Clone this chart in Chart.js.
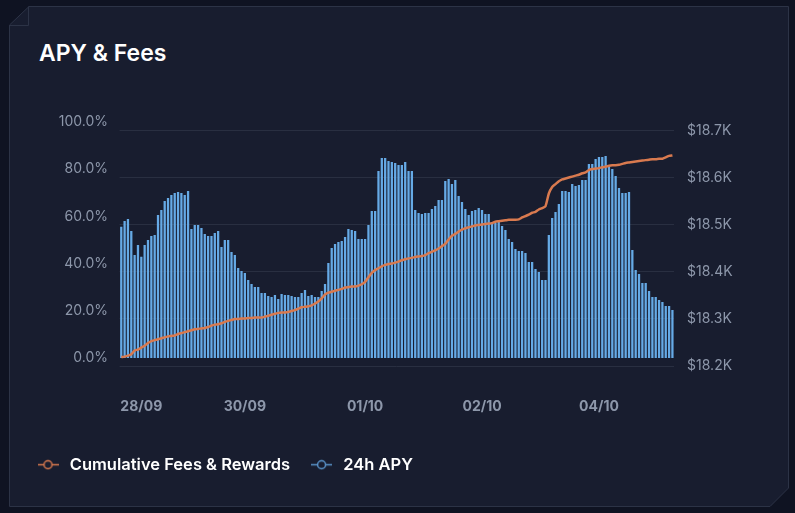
<!DOCTYPE html>
<html>
<head>
<meta charset="utf-8">
<script src="https://cdn.jsdelivr.net/npm/chart.js@4/dist/chart.umd.min.js"></script>
<style>
  html, body { margin: 0; padding: 0; background: #0f1322; }
  #wrap { position: relative; width: 795px; height: 513px; overflow: hidden; }
  #card { position: absolute; left: 0; top: 0; }
  #title {
    position: absolute; left: 39px; top: 40.5px; margin: 0;
    font-family: Inter, sans-serif; font-size: 23px; line-height: 24px; font-weight: 600;
    color: #ffffff;
  }
  #chart { position: absolute; left: 0; top: 0; }
</style>
</head>
<body>
<div id="wrap">
  <svg id="card" width="795" height="513">
    <path d="M9.5 25 L29 6.5 L788.5 6.5 L788.5 488 L770 506.5 L9.5 506.5 Z" fill="#181d2f" stroke="#2c3346" stroke-width="1"/>
    <path d="M28.5 6.5 L28.5 25.5 L9.5 25.5" fill="none" stroke="#2c3346" stroke-width="1"/>
  </svg>
  <h1 id="title">APY &amp; Fees</h1>
  <canvas id="chart" width="795" height="513"></canvas>
</div>
<script>
// x ticks: only a few dates are labelled
const tickDays = ['28/09', '30/09', '01/10', '02/10', '04/10'];
const tickAt = [6, 37, 73, 108, 143];

// 24h APY (%)
const apy = [
  55.6, 58.1, 58.9, 53.8, 43.6, 47.9, 42.9, 47.9, 50, 51.7, 52.1, 60.6, 62.7, 66.5, 67.8, 69.1, 69.9, 70.3, 69.9, 69.1, 70.8,
  54.7, 56.4, 56.4, 55.1, 52.5, 51.7, 51.7, 53, 53.8, 47, 50, 50, 44.9, 43.6, 38.1, 36.9, 36, 33, 31.4, 30.1, 30.1,
  27.5, 27.5, 26.3, 25.8, 26.7, 25, 27.1, 26.7, 26.7, 26.3, 25.8, 25.8, 27.5, 28.8, 26.3, 26.7, 25.8, 25.8, 28.4, 31.4,
  40.3, 46.6, 48.3, 49.2, 49.6, 51.3, 54.7, 54.2, 53.8, 50.4, 50.4, 50.4, 56.4, 62.3, 62.3, 79.2, 84.7, 84.7, 83.5, 83.1, 82.6,
  81.8, 81.8, 83.1, 79.2, 79.2, 62.7, 61.4, 61, 61.4, 61.4, 63.1, 64.4, 67, 67, 75, 75.8, 73.7, 75.4, 68.6, 66.1,
  63.1, 60.6, 62.3, 62.7, 63.6, 62.7, 61, 61, 57.6, 57.2, 57.6, 55.9, 54.2, 50.4, 49.2, 46.2, 45.3, 45.3, 44.5, 40.7,
  40.7, 37.7, 36.4, 33.1, 33.1, 52.1, 59.3, 61.9, 65.3, 70.8, 70.8, 70.3, 73.7, 72.9, 73.3, 75.4, 75.4, 82.2, 82.2, 84.3,
  85.2, 85.2, 85.6, 81.4, 80.1, 77.1, 72, 69.9, 69.9, 70.3, 45.8, 37.3, 35.6, 31.8, 31.8, 28.4, 25.8, 25.8, 24.6, 23.7,
  22, 22, 20.3
];

// cumulative fees & rewards ($)
const fees = [
  18219, 18220, 18222, 18225, 18233, 18235, 18239, 18243, 18249, 18253, 18255, 18257, 18259, 18261, 18263, 18264,
  18265, 18268, 18270, 18272, 18274, 18276, 18278, 18279, 18280, 18281, 18283, 18286, 18288, 18289, 18291, 18294,
  18296, 18298, 18300, 18300, 18301, 18301, 18302, 18302, 18303, 18303, 18303, 18305, 18307, 18309, 18311, 18313,
  18314, 18314, 18315, 18317, 18319, 18322, 18325, 18326, 18327, 18329, 18333, 18337, 18344, 18352, 18356, 18358,
  18360, 18362, 18364, 18367, 18368, 18369, 18369, 18371, 18374, 18379, 18389, 18398, 18404, 18408, 18412, 18415,
  18417, 18418, 18420, 18422, 18425, 18427, 18429, 18430, 18432, 18433, 18434, 18436, 18440, 18443, 18446, 18450,
  18455, 18460, 18469, 18477, 18481, 18486, 18490, 18493, 18495, 18497, 18499, 18500, 18501, 18502, 18503, 18504,
  18507, 18508, 18509, 18510, 18511, 18511, 18511, 18512, 18516, 18519, 18522, 18526, 18528, 18533, 18536, 18540,
  18567, 18581, 18587, 18593, 18597, 18599, 18601, 18603, 18605, 18607, 18610, 18612, 18617, 18619, 18620, 18621,
  18623, 18624, 18626, 18627, 18627, 18628, 18630, 18632, 18633, 18634, 18635, 18636, 18637, 18638, 18639, 18640,
  18640, 18641, 18641, 18644, 18647, 18648
];

const labels = apy.map((_, i) => {
  const k = tickAt.indexOf(i);
  return k >= 0 ? tickDays[k] : '';
});

const ORANGE = '#d97a4f';
const BLUE = '#66aae6';
const GRAY = '#8d97aa';

function legendMarker(color) {
  const c = document.createElement('canvas');
  c.width = 21; c.height = 11;
  const g = c.getContext('2d');
  g.strokeStyle = color;
  g.lineWidth = 1.5;
  g.beginPath(); g.moveTo(0, 5.5); g.lineTo(21, 5.5); g.stroke();
  g.fillStyle = '#181d2f';
  g.beginPath(); g.arc(10.5, 5.5, 4, 0, Math.PI * 2); g.fill(); g.stroke();
  return c;
}
const markers = [legendMarker(ORANGE), legendMarker('#5b95cc')];

Chart.defaults.font.family = 'Inter, sans-serif';

new Chart(document.getElementById('chart').getContext('2d'), {
  data: {
    labels: labels,
    datasets: [
      {
        type: 'line', label: 'Cumulative Fees & Rewards', data: fees, yAxisID: 'y1', order: 0,
        borderColor: ORANGE, borderWidth: 2.5, pointRadius: 0, tension: 0.2, fill: false
      },
      {
        type: 'bar', label: '24h APY', data: apy, yAxisID: 'y', order: 1,
        backgroundColor: BLUE, barPercentage: 0.68, categoryPercentage: 1
      }
    ]
  },
  options: {
    responsive: false,
    animation: false,
    layout: { padding: { left: 16.5, right: 0, top: 112, bottom: 30 } },
    plugins: {
      tooltip: { enabled: false },
      legend: {
        position: 'bottom', align: 'start',
        labels: {
          color: '#ffffff', font: { size: 16.5, weight: '600' },
          usePointStyle: true, pointStyleWidth: 27, padding: 18,
          generateLabels(chart) {
            const items = Chart.defaults.plugins.legend.labels.generateLabels(chart);
            items.forEach(it => { it.pointStyle = markers[it.datasetIndex]; });
            return items;
          }
        }
      }
    },
    scales: {
      x: {
        grid: { display: false, drawTicks: false }, border: { display: false },
        ticks: {
          autoSkip: false, maxRotation: 0, padding: 32, color: GRAY,
          font: { size: 14, weight: '700' },
          callback: (v, i) => labels[i]
        },
        afterFit(s) { s.height = 72.5; }
      },
      y: {
        position: 'left', min: -3.39, max: 104.24,
        grid: { display: false, drawTicks: false }, border: { display: false },
        ticks: {
          stepSize: 20, includeBounds: false, padding: 11.6, color: GRAY, font: { size: 14 },
          callback: v => v.toFixed(1) + '%'
        },
        afterFit(s) { s.width = 103.1; }
      },
      y1: {
        position: 'right', min: 18200, max: 18740.4,
        grid: { color: '#292f41', lineWidth: 1, drawTicks: false }, border: { display: false },
        ticks: {
          stepSize: 100, includeBounds: false, padding: 13, color: GRAY, font: { size: 14 },
          callback: v => '$' + (v / 1000).toFixed(1) + 'K'
        },
        afterFit(s) { s.width = 120.9; }
      }
    }
  }
});
</script>
</body>
</html>
